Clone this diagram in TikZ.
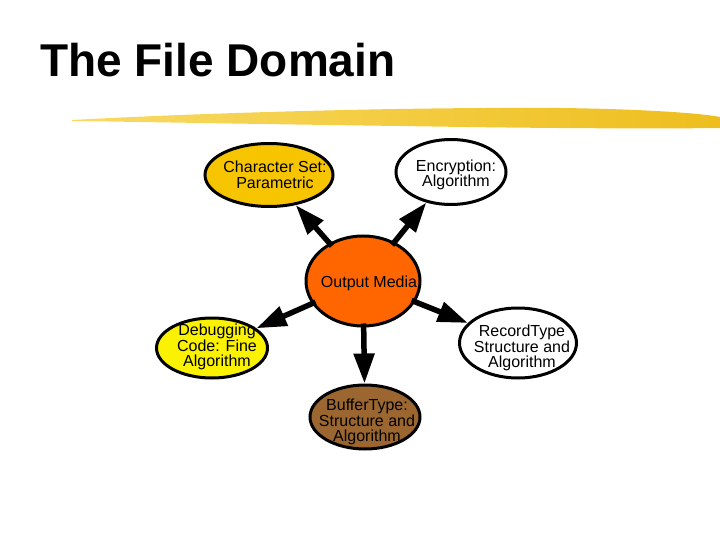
\documentclass[tikz,border=0pt]{standalone}
\usepackage{fontspec}
\setmainfont{Liberation Sans}
\usetikzlibrary{arrows.meta,shapes.geometric}

\definecolor{brush}{RGB}{238,190,30}
\definecolor{brushlight}{RGB}{248,218,100}
\definecolor{charset}{RGB}{247,197,0}
\definecolor{debugy}{RGB}{250,242,0}
\definecolor{media}{RGB}{255,102,0}
\definecolor{buffer}{RGB}{155,102,48}

\begin{document}
\begin{tikzpicture}[x=1pt, y=-1pt, >={Triangle[length=30pt,width=20pt]},
  blob/.style={draw, ellipse, line width=3pt, inner sep=0pt},
  txt/.style={align=center, font=\fontsize{16}{15.5}\selectfont},
  arr/.style={->, line width=5.5pt, shorten <=-4pt}]
\useasboundingbox (0,0) rectangle (720,540);
% title and brush stroke
\node[anchor=base west, inner sep=0pt, font=\fontsize{46}{46}\selectfont\bfseries] (title) at (40,77) {The File Domain};
\shade[left color=brushlight, right color=brush] (72,120) .. controls (200,113) and (400,107) .. (560,108)
  .. controls (640,109) and (700,113) .. (720,117) -- (720,128)
  .. controls (640,129) and (520,128) .. (400,126)
  .. controls (250,124) and (150,122) .. (72,121) -- cycle;
% ellipses
\node[blob, fill=media, minimum width=114pt, minimum height=90pt] (om) at (363,281) {};
\node[blob, fill=charset, minimum width=128pt, minimum height=63pt] (cs) at (269,175) {};
\node[blob, fill=white, minimum width=110pt, minimum height=65pt] (enc) at (451,172) {};
\node[blob, fill=debugy, minimum width=111pt, minimum height=60pt] (dbg) at (212,348) {};
\node[blob, fill=white, minimum width=117pt, minimum height=70pt] (rec) at (518,343) {};
\node[blob, fill=buffer, minimum width=110pt, minimum height=64pt] (buf) at (365,417) {};
% labels
\node[txt] (omt) at (369,283) {Output Media};
\node[txt] (cst) at (275,175) {Character Set:\\Parametric};
\node[txt] (enct) at (456,175) {Encryption:\\Algorithm};
\node[txt] (dbgt) at (217,347) {Debugging\\Code: Fine\\Algorithm};
\node[txt] (rect) at (522,348) {RecordType\\Structure and\\Algorithm};
\node[txt] (buft) at (367,422) {BufferType:\\Structure and\\Algorithm};
% arrows
\draw[arr] (om) -- (cs);
\draw[arr] (om) -- (enc);
\draw[arr] (om) -- (dbg);
\draw[arr] (om) -- (rec);
\draw[arr] (om) -- (buf);
\end{tikzpicture}
\end{document}
